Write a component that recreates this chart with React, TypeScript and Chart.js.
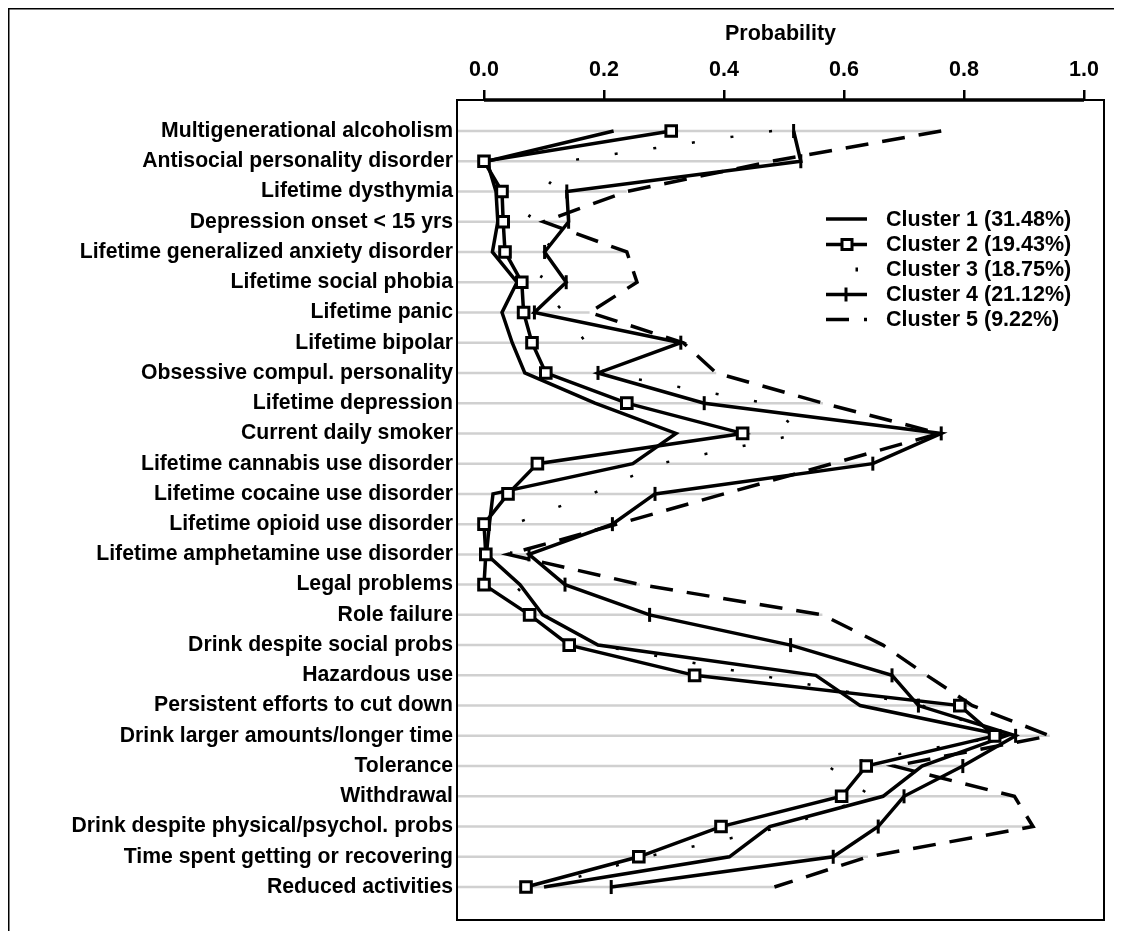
import { useEffect, useRef } from "react";
import { Chart, registerables } from "chart.js";

Chart.register(...registerables);

const categories = [
  "Multigenerational alcoholism",
  "Antisocial personality disorder",
  "Lifetime dysthymia",
  "Depression onset < 15 yrs",
  "Lifetime generalized anxiety disorder",
  "Lifetime social phobia",
  "Lifetime panic",
  "Lifetime bipolar",
  "Obsessive compul. personality",
  "Lifetime depression",
  "Current daily smoker",
  "Lifetime cannabis use disorder",
  "Lifetime cocaine use disorder",
  "Lifetime opioid use disorder",
  "Lifetime amphetamine use disorder",
  "Legal problems",
  "Role failure",
  "Drink despite social probs",
  "Hazardous use",
  "Persistent efforts to cut down",
  "Drink larger amounts/longer time",
  "Tolerance",
  "Withdrawal",
  "Drink despite physical/psychol. probs",
  "Time spent getting or recovering",
  "Reduced activities",
];

const cluster1 = [0.216, 0.005, 0.02, 0.023, 0.014, 0.055, 0.03, 0.047, 0.068, 0.185, 0.32, 0.248, 0.015, 0.009, 0.004, 0.06, 0.098, 0.19, 0.553, 0.627, 0.87, 0.73, 0.665, 0.476, 0.409, 0.1];
const cluster2 = [0.312, 0.0, 0.03, 0.032, 0.035, 0.063, 0.066, 0.08, 0.103, 0.238, 0.431, 0.089, 0.04, 0.0, 0.003, 0.0, 0.076, 0.142, 0.351, 0.793, 0.851, 0.637, 0.596, 0.395, 0.258, 0.07];
const cluster3 = [0.48, 0.135, 0.1, 0.07, 0.12, 0.09, 0.133, 0.17, 0.2, 0.47, 0.53, 0.293, 0.18, 0.05, 0.045, 0.05, 0.1, 0.19, 0.46, 0.73, 0.87, 0.573, 0.646, 0.5, 0.27, 0.1];
const cluster4 = [0.516, 0.528, 0.138, 0.141, 0.101, 0.137, 0.084, 0.328, 0.19, 0.367, 0.762, 0.648, 0.285, 0.214, 0.075, 0.135, 0.276, 0.511, 0.68, 0.724, 0.886, 0.798, 0.7, 0.657, 0.582, 0.212];
const cluster5 = [0.762, 0.48, 0.238, 0.099, 0.238, 0.255, 0.176, 0.332, 0.387, 0.565, 0.759, 0.58, 0.4, 0.222, 0.04, 0.26, 0.564, 0.665, 0.738, 0.814, 0.943, 0.683, 0.884, 0.915, 0.64, 0.484];

const legendLabels = [
  "Cluster 1 (31.48%)",
  "Cluster 2 (19.43%)",
  "Cluster 3 (18.75%)",
  "Cluster 4 (21.12%)",
  "Cluster 5 (9.22%)",
];

const xTicks = [0, 0.2, 0.4, 0.6, 0.8, 1.0];
const axisTitle = "Probability";

const FONT = "'Liberation Sans', Arial, Helvetica, sans-serif";
const FS = 21.5;
const FS_LABEL = 21.2;

export default function App() {
  const ref = useRef<HTMLCanvasElement>(null);

  useEffect(() => {
    const canvas = ref.current;
    if (!canvas) return;
    const series = [cluster1, cluster2, cluster3, cluster4, cluster5];

    const datasets = series.map((s, k) => ({
      label: legendLabels[k],
      data: s.map((v, i) => ({ x: v, y: i })),
      borderColor: "#000",
      backgroundColor: "#fff",
      borderWidth: k === 2 ? 2.5 : 3.5,
      borderDash: k === 2 ? [3, 36] : k === 4 ? [23, 14] : [],
      borderJoinStyle: "miter" as const,
      pointRadius: k === 1 ? 7.5 : k === 3 ? 7 : 0,
      pointStyle: k === 1 ? "rect" : k === 3 ? "line" : "circle",
      pointRotation: k === 3 ? 90 : 0,
      pointBorderWidth: 3,
      pointBackgroundColor: "#fff",
      pointBorderColor: "#000",
      tension: 0,
      fill: false,
      order: k === 1 ? -1 : k,
    }));

    const decor = {
      id: "decor",
      beforeDatasetsDraw(chart: any) {
        const { ctx, chartArea: a, scales } = chart;
        const x = scales.x;
        const y = scales.y;
        ctx.save();
        ctx.strokeStyle = "#d0d0d0";
        ctx.lineWidth = 2.5;
        categories.forEach((_, i) => {
          const m = Math.max(...series.map((s) => s[i]));
          const py = y.getPixelForValue(i);
          ctx.beginPath();
          ctx.moveTo(a.left, py);
          ctx.lineTo(x.getPixelForValue(m), py);
          ctx.stroke();
        });
        ctx.restore();
      },
      afterDraw(chart: any) {
        const { ctx, chartArea: a, scales, width, height } = chart;
        const x = scales.x;
        ctx.save();
        ctx.strokeStyle = "#000";
        ctx.lineWidth = 2;
        ctx.strokeRect(a.left, a.top, a.right - a.left, a.bottom - a.top);
        ctx.lineWidth = 3.5;
        ctx.beginPath();
        ctx.moveTo(x.getPixelForValue(xTicks[0]), a.top);
        ctx.lineTo(x.getPixelForValue(xTicks[xTicks.length - 1]), a.top);
        ctx.stroke();
        // outer border
        ctx.lineWidth = 1.5;
        ctx.beginPath();
        ctx.moveTo(0.75, height + 5);
        ctx.lineTo(0.75, 0.75);
        ctx.lineTo(width - 0.75, 0.75);
        ctx.lineTo(width - 0.75, height + 5);
        ctx.stroke();

        // legend
        const lx0 = 818;
        const lx1 = 859;
        const tx = 878;
        const ys = [211, 236.5, 261.5, 286.5, 311.5];
        ctx.font = `bold ${FS}px ${FONT}`;
        ctx.fillStyle = "#000";
        ctx.textBaseline = "middle";
        ctx.textAlign = "left";
        legendLabels.forEach((lab, k) => {
          const yy = ys[k];
          ctx.lineWidth = 3.5;
          ctx.setLineDash([]);
          if (k === 0 || k === 1 || k === 3) {
            ctx.beginPath();
            ctx.moveTo(lx0, yy);
            ctx.lineTo(lx1, yy);
            ctx.stroke();
          }
          if (k === 1) {
            ctx.lineWidth = 3;
            ctx.fillStyle = "#fff";
            ctx.fillRect(834, yy - 5, 10, 10);
            ctx.strokeRect(834, yy - 5, 10, 10);
            ctx.fillStyle = "#000";
          }
          if (k === 3) {
            ctx.lineWidth = 3;
            ctx.beginPath();
            ctx.moveTo(838, yy - 7);
            ctx.lineTo(838, yy + 7);
            ctx.stroke();
          }
          if (k === 2) {
            ctx.fillRect(847.5, yy - 2, 2.5, 4);
          }
          if (k === 4) {
            ctx.beginPath();
            ctx.moveTo(lx0, yy);
            ctx.lineTo(841, yy);
            ctx.moveTo(856, yy);
            ctx.lineTo(859, yy);
            ctx.stroke();
          }
          ctx.fillText(lab, tx, yy + 1);
        });
        ctx.restore();
      },
    };

    const chart = new Chart(canvas, {
      type: "line",
      data: { datasets: datasets as any },
      options: {
        responsive: false,
        animation: false,
        devicePixelRatio: 1,
        events: [],
        layout: { padding: { left: 0, right: 15, top: 0, bottom: 11 } },
        plugins: { legend: { display: false }, tooltip: { enabled: false } },
        scales: {
          x: {
            type: "linear",
            position: "top",
            min: -0.045,
            max: 1.0333,
            afterBuildTicks: (scale: any) => {
              scale.ticks = xTicks.map((v) => ({ value: v }));
            },
            afterFit: (scale: any) => {
              scale.height = 92;
              scale.paddingLeft = 0;
              scale.paddingRight = 0;
            },
            grid: {
              drawOnChartArea: false,
              drawTicks: true,
              tickLength: 10,
              color: "#000",
              lineWidth: 2.5,
            },
            border: { display: false },
            ticks: {
              padding: 7,
              color: "#000",
              font: { family: FONT, size: FS, weight: "bold" },
              callback: (v: any) => Number(v).toFixed(1),
            },
            title: {
              display: true,
              text: axisTitle,
              color: "#000",
              font: { family: FONT, size: FS, weight: "bold" },
              padding: { top: 13, bottom: 0 },
            },
          },
          y: {
            type: "linear",
            reverse: true,
            min: -1.025,
            max: 26.09,
            afterBuildTicks: (scale: any) => {
              scale.ticks = categories.map((_, i) => ({ value: i }));
            },
            afterFit: (scale: any) => {
              scale.width = 449;
              scale.paddingTop = 0;
              scale.paddingBottom = 0;
            },
            grid: { display: false, drawTicks: false },
            border: { display: false },
            ticks: {
              autoSkip: false,
              padding: 4,
              color: "#000",
              font: { family: FONT, size: FS_LABEL, weight: "bold" },
              callback: (v: any) => categories[Math.round(Number(v))] ?? "",
            },
          },
        },
      },
      plugins: [decor],
    });

    return () => chart.destroy();
  }, []);

  return (
    <div style={{ width: 1111, height: 923, overflow: "hidden" }}>
      <canvas ref={ref} width={1111} height={923} style={{ display: "block" }} />
    </div>
  );
}
